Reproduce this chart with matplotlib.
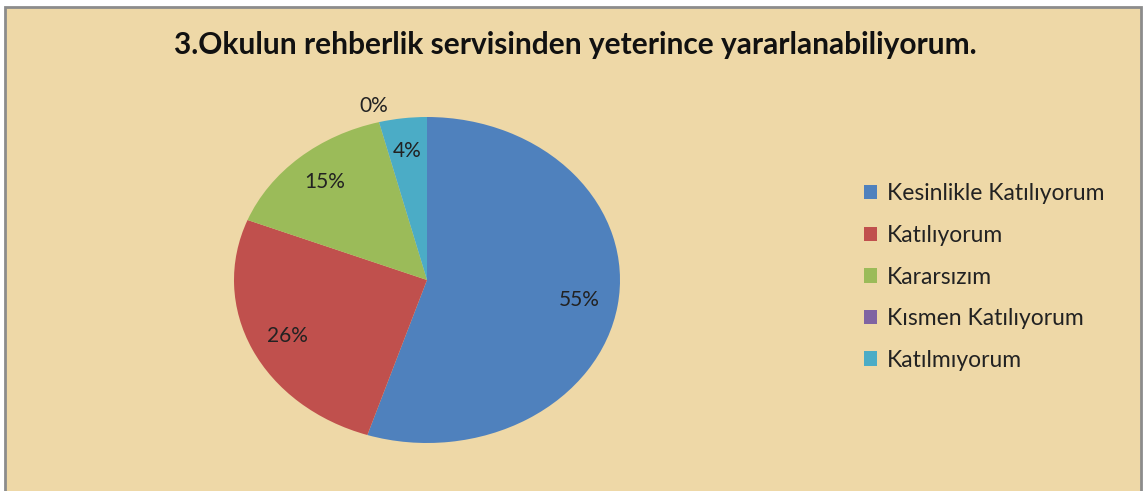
import matplotlib.pyplot as plt
from matplotlib.patches import Rectangle
import numpy as np

title = "3.Okulun rehberlik servisinden yeterince yararlanabiliyorum."
categories = ["Kesinlikle Katılıyorum", "Katılıyorum", "Kararsızım",
              "Kısmen Katılıyorum", "Katılmıyorum"]
percents = [55, 26, 15, 0, 4]
colors = ["#4F81BD", "#C0504D", "#9BBB59", "#8064A2", "#4BACC6"]

W, H = 1146, 491
fig = plt.figure(figsize=(W / 100, H / 100), dpi=100, facecolor="white")

# chart area with border (bottom edge runs off the picture)
fig.patches.append(Rectangle((5 / W, -0.05), 1136 / W, (H - 7) / H + 0.05,
                             transform=fig.transFigure, facecolor="#EED8A7",
                             edgecolor="#8C8C8C", linewidth=2, zorder=-5))

fig.text(575 / W, 1 - 45 / H, title, ha="center", va="center",
         fontsize=21.5, fontweight="bold", family="Lato", color="#111111")

# pie is stretched horizontally, as in the reference
cx, cy, rx, ry = 427, 280, 193, 163
ax = fig.add_axes([(cx - 1.25 * rx) / W, 1 - (cy + 1.25 * ry) / H,
                   2.5 * rx / W, 2.5 * ry / H])
ax.patch.set_visible(False)
wedges, _ = ax.pie(percents, colors=colors, startangle=90, counterclock=False,
                   radius=1.0)
ax.set_aspect("auto")
ax.set_xlim(-1.25, 1.25)
ax.set_ylim(-1.25, 1.25)

total = sum(percents)
start = 90.0
for p in percents:
    span = 360.0 * p / total
    mid = np.deg2rad(start - span / 2)
    r = 0.8 if p > 0 else 1.1
    ax.text(r * np.cos(mid), r * np.sin(mid), f"{p}%", ha="center",
            va="center", fontsize=15, family="Lato", color="#222222")
    start -= span

leg = fig.legend(wedges, categories, loc="center left",
                 bbox_to_anchor=(843 / W, 1 - 277 / H), frameon=False,
                 prop={"family": "Lato", "size": 16.5},
                 handlelength=0.6, handleheight=0.6, handletextpad=0.4,
                 labelspacing=0.9)
for t in leg.get_texts():
    t.set_color("#222222")

fig.savefig("out.png", dpi=100)
